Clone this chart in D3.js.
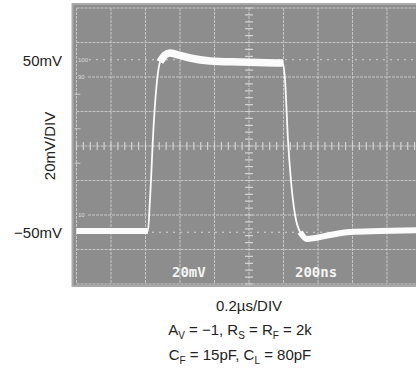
<!DOCTYPE html>
<html>
<head>
<meta charset="UTF-8">
<style>
  body { margin: 0; background: #fff; }
  text { font-family: "Liberation Sans", Arial, sans-serif; }
</style>
</head>
<body>
<div id="chart"></div>
<script src="https://cdn.jsdelivr.net/npm/d3@7"></script>
<script>
// trace (time in ns, level in mV)
var timeNs  = [0, 200, 414, 426, 449, 467, 484, 513, 542, 588, 658, 774, 948, 1100, 1197,
               1209, 1226, 1243, 1267, 1296, 1336, 1383, 1470, 1586, 1759, 2000];
var traceMv = [-49.3, -49.3, -49.3, -31, 15, 38, 48.7, 52.8, 53.9, 52.8, 51, 49.3, 48.7, 48.3, 48.1,
               38, 3.5, -19.7, -40, -49.9, -53.9, -53.3, -51.6, -49.9, -49.3, -48.7];

// slow parts of the trace show as a wide band
var bandStart = [0, 484, 1296];
var bandEnd   = [414, 1197, 2000];
var bandWidth = [6, 7.5, 6];

var levelMv    = [50, 40, -40, -50];
var levelText  = ["100", "90", "10", "0"];
var sideMv     = [50, -50];
var sideText   = ["50mV", "\u221250mV"];

var width = 416, height = 369;
var screen = {left: 72.5, top: 4, right: 418, bottom: 286};

var x = d3.scaleLinear().domain([0, 2000]).range([76.5, 421.5]);
var y = d3.scaleLinear().domain([-80, 80]).range([284, 8]);

var svg = d3.select("#chart").append("svg")
    .attr("width", width)
    .attr("height", height);

svg.append("defs").append("clipPath").attr("id", "scr")
  .append("rect")
    .attr("x", screen.left).attr("y", screen.top)
    .attr("width", screen.right - screen.left)
    .attr("height", screen.bottom - screen.top);

svg.append("rect")
    .attr("x", screen.left).attr("y", screen.top)
    .attr("width", screen.right - screen.left)
    .attr("height", screen.bottom - screen.top)
    .style("fill", "#8d8d8d")
    .style("stroke", "#a9a9a9")
    .style("stroke-width", 2);

var g = svg.append("g").attr("clip-path", "url(#scr)");

// graticule
g.selectAll(".vg").data(d3.range(0, 2001, 200)).enter().append("line")
    .attr("x1", function(d) { return x(d); })
    .attr("x2", function(d) { return x(d); })
    .attr("y1", y(80)).attr("y2", y(-80))
    .style("stroke", "#c6c6c6")
    .style("stroke-dasharray", "3,1");

g.selectAll(".hg").data(d3.range(-80, 81, 20)).enter().append("line")
    .attr("y1", function(d) { return y(d); })
    .attr("y2", function(d) { return y(d); })
    .attr("x1", function(d) { return (d == 40 || d == -40) ? 88 : x(0); })
    .attr("x2", x(2000))
    .style("stroke", "#c6c6c6")
    .style("stroke-dasharray", "3,1");

// minor ticks on centre axes
g.selectAll(".mx").data(d3.range(0, 2001, 40)).enter().append("line")
    .attr("x1", function(d) { return x(d); })
    .attr("x2", function(d) { return x(d); })
    .attr("y1", y(0) - 4).attr("y2", y(0) + 4)
    .style("stroke", "#d2d2d2")
    .style("stroke-width", 1.2);

g.selectAll(".my").data(d3.range(-80, 81, 4)).enter().append("line")
    .attr("y1", function(d) { return y(d); })
    .attr("y2", function(d) { return y(d); })
    .attr("x1", x(1000) - 4).attr("x2", x(1000) + 4)
    .style("stroke", "#d2d2d2")
    .style("stroke-width", 1.2);

// small marks at the left edge
g.selectAll(".lm").data([30, 10, -10]).enter().append("line")
    .attr("y1", function(d) { return y(d); })
    .attr("y2", function(d) { return y(d); })
    .attr("x1", x(0) - 2).attr("x2", x(0) + 4)
    .style("stroke", "#c9c9c9");

// 0% / 100% dotted levels
g.selectAll(".lv").data([50, -50]).enter().append("line")
    .attr("y1", function(d) { return y(d); })
    .attr("y2", function(d) { return y(d); })
    .attr("x1", 89).attr("x2", x(2000))
    .style("stroke", "#d4d4d4")
    .style("stroke-width", 1.2)
    .style("stroke-dasharray", "2,5");

g.selectAll(".lt").data(levelMv).enter().append("text")
    .attr("x", 78)
    .attr("y", function(d) { return y(d) + 2; })
    .style("font-size", "6px")
    .style("fill", "#dcdcdc")
    .text(function(d, i) { return levelText[i]; });

// trace
var pts = timeNs.map(function(t, i) { return [t, traceMv[i]]; });
var line = d3.line()
    .x(function(d) { return x(d[0]); })
    .y(function(d) { return y(d[1]); })
    .curve(d3.curveMonotoneX);

g.append("path")
    .datum(pts)
    .attr("d", line)
    .style("fill", "none")
    .style("stroke", "#fbfbfb")
    .style("stroke-width", 1.8);

bandStart.forEach(function(s, i) {
    var seg = pts.filter(function(p) { return p[0] >= s && p[0] <= bandEnd[i]; });
    g.append("path")
        .datum(seg)
        .attr("d", line)
        .style("fill", "none")
        .style("stroke", "#fbfbfb")
        .style("stroke-width", bandWidth[i])
        .style("stroke-linecap", "butt");
});

// scope readouts
g.append("text").attr("x", 172).attr("y", 277)
    .style("font-family", "'DejaVu Sans Mono', monospace")
    .style("font-weight", "bold").style("font-size", "14px")
    .style("fill", "#f4f4f4").text("20mV");
g.append("text").attr("x", 295).attr("y", 277)
    .style("font-family", "'DejaVu Sans Mono', monospace")
    .style("font-weight", "bold").style("font-size", "14px")
    .style("fill", "#f4f4f4").text("200ns");

// labels outside the screen
svg.selectAll(".sl").data(sideMv).enter().append("text")
    .attr("x", 62)
    .attr("y", function(d) { return y(d) + 6; })
    .attr("text-anchor", "end")
    .style("font-size", "15px")
    .style("fill", "#222")
    .text(function(d, i) { return sideText[i]; });

svg.append("text")
    .attr("transform", "translate(55," + y(0) + ") rotate(-90)")
    .attr("text-anchor", "middle")
    .style("font-size", "15px")
    .style("fill", "#222")
    .text("20mV/DIV");

svg.append("text")
    .attr("x", 249).attr("y", 311)
    .attr("text-anchor", "middle")
    .style("font-size", "15px").style("fill", "#222")
    .text("0.2\u00b5s/DIV");

function subLine(yy, parts) {
    var t = svg.append("text")
        .attr("x", 240).attr("y", yy)
        .attr("text-anchor", "middle")
        .style("font-size", "15px").style("fill", "#222");
    parts.forEach(function(p) {
        if (p[1]) {
            t.append("tspan").attr("dy", 4).style("font-size", "10px").text(p[0]);
        } else {
            t.append("tspan").attr("dy", p[2] ? -4 : 0).text(p[0]);
        }
    });
}

subLine(335, [["A"], ["V", true], [" = \u22121, R", false, true], ["S", true],
              [" = R", false, true], ["F", true], [" = 2k", false, true]]);
subLine(360, [["C"], ["F", true], [" = 15pF, C", false, true], ["L", true],
              [" = 80pF", false, true]]);
</script>
</body>
</html>
